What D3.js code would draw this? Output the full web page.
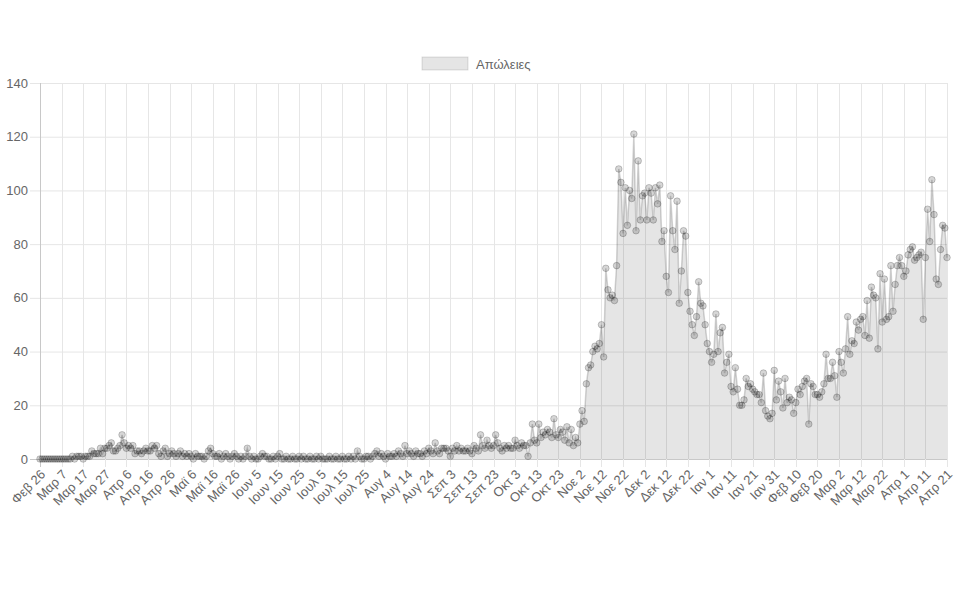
<!DOCTYPE html>
<html><head><meta charset="utf-8">
<script src="https://cdn.jsdelivr.net/npm/d3@7/dist/d3.min.js"></script>
<style>
body{margin:0;background:#fff}
text{font-family:"Liberation Sans",Arial,Helvetica,sans-serif}
</style>
</head><body>
<svg id="chart" width="960" height="600"></svg>
<script>
const seriesName = "Απώλειες";
const startDate = "2020-02-26";
const endDate = "2021-04-21";
const tickLabels = ["Φεβ 26","Μαρ 7","Μαρ 17","Μαρ 27","Απρ 6","Απρ 16","Απρ 26","Μαϊ 6","Μαϊ 16","Μαϊ 26","Ιουν 5","Ιουν 15","Ιουν 25","Ιουλ 5","Ιουλ 15","Ιουλ 25","Αυγ 4","Αυγ 14","Αυγ 24","Σεπ 3","Σεπ 13","Σεπ 23","Οκτ 3","Οκτ 13","Οκτ 23","Νοε 2","Νοε 12","Νοε 22","Δεκ 2","Δεκ 12","Δεκ 22","Ιαν 1","Ιαν 11","Ιαν 21","Ιαν 31","Φεβ 10","Φεβ 20","Μαρ 2","Μαρ 12","Μαρ 22","Απρ 1","Απρ 11","Απρ 21"];
const yTicks = [0,20,40,60,80,100,120,140];

// daily values, month by month
const feb2020 = [0,0,0,0];
const mar2020 = [0,0,0,0,0,0,0,0,0,0,0,1,0,1,1,1,0,1,1,1,3,2,2,2,4,2,4,4,5,6,3];
const apr2020 = [3,4,5,9,6,4,5,4,5,2,3,3,2,3,4,3,3,5,4,5,2,1,3,4,1,2,3,2,1,2];
const may2020 = [3,1,2,1,2,1,0,2,1,1,1,0,1,3,4,2,1,1,2,0,1,2,1,0,1,2,1,0,1,0,1];
const jun2020 = [4,1,0,1,0,0,1,2,1,1,0,0,1,0,1,2,0,0,1,0,0,1,0,0,1,0,1,0,0,1];
const jul2020 = [0,0,1,0,1,0,0,0,1,0,0,1,0,0,1,0,0,1,0,1,0,3,1,0,0,1,1,0,1,2,3];
const aug2020 = [1,2,1,0,2,1,1,2,1,3,2,1,5,2,3,2,1,3,2,2,1,3,2,4,3,2,6,3,2,4,4];
const sep2020 = [4,3,1,4,3,5,3,4,3,3,4,3,2,5,4,3,9,5,4,7,5,4,5,9,6,4,3,5,4,5];
const oct2020 = [4,4,7,5,4,6,5,5,1,6,13,7,6,13,8,10,9,11,10,8,15,9,8,11,10,7,12,6,11,5,8];
const nov2020 = [6,13,18,14,28,34,35,40,42,41,43,50,38,71,63,60,61,59,72,108,103,84,101,87,100,97,121,85,111,89];
const dec2020 = [98,99,89,101,99,89,101,95,102,81,85,68,62,98,85,78,96,58,70,85,83,62,55,50,46,53,66,58,57,50,43];
const jan2021 = [40,36,39,54,40,47,49,32,36,39,27,25,34,26,20,20,22,30,27,28,26,25,24,24,21,32,18,16,15,17,33];
const feb2021 = [22,29,25,19,30,21,23,22,17,21,26,24,27,29,30,13,28,27,24,24,23,25,28,39,30,30,36,31];
const mar2021 = [23,40,36,32,41,53,39,44,43,51,48,52,53,46,59,45,64,61,60,41,69,51,67,52,53,72,55,65,72,75,72];
const apr2021 = [68,70,76,78,79,74,75,76,77,52,75,93,81,104,91,67,65,78,87,86,75];

const values = [].concat(feb2020,mar2020,apr2020,may2020,jun2020,jul2020,aug2020,sep2020,oct2020,nov2020,dec2020,jan2021,feb2021,mar2021,apr2021);
const days = d3.timeDay.range(new Date(startDate+"T00:00:00"), d3.timeDay.offset(new Date(endDate+"T00:00:00"),1));
const data = days.map((d,i)=>({date:d, i, v: values[i]}));

const W = 960, H = 600;
const m = {left:40, right:13, top:83, bottom:141};
const svg = d3.select("#chart");

const x = d3.scaleLinear().domain([0, data.length-1]).range([m.left, W-m.right]);
const y = d3.scaleLinear().domain([0, 140]).range([H-m.bottom, m.top]);

const gridColor = "#e6e6e6";
const labelColor = "#666";

// horizontal grid + y labels
const gy = svg.append("g");
gy.selectAll("line").data(yTicks).join("line")
  .attr("x1", m.left-10).attr("x2", W-m.right)
  .attr("y1", d=>y(d)+0.5).attr("y2", d=>y(d)+0.5)
  .attr("stroke", d=> d===0 ? "#c8c8c8" : gridColor).attr("stroke-width",1);
gy.selectAll("text").data(yTicks).join("text")
  .attr("x", m.left-12).attr("y", d=>y(d)).attr("dy","0.35em")
  .attr("text-anchor","end").attr("fill",labelColor).attr("font-size",13)
  .text(d=>d);

// vertical grid + x labels
const tickIdx = tickLabels.map((t,k)=>k*10);
const gx = svg.append("g");
gx.selectAll("line").data(tickIdx).join("line")
  .attr("x1", d=>Math.round(x(d))+0.5).attr("x2", d=>Math.round(x(d))+0.5)
  .attr("y1", m.top).attr("y2", H-m.bottom+8)
  .attr("stroke", (d,k)=> k===0 ? "#c8c8c8" : gridColor).attr("stroke-width",1);
gx.selectAll("text").data(tickLabels).join("text")
  .attr("transform",(t,k)=>`translate(${x(k*10)+3},${H-m.bottom+13}) rotate(-45)`)
  .attr("text-anchor","end").attr("dy","0.35em")
  .attr("fill",labelColor).attr("font-size",13)
  .text(t=>t);

// area + line
const area = d3.area().x(d=>x(d.i)).y0(y(0)).y1(d=>y(d.v));
const line = d3.line().x(d=>x(d.i)).y(d=>y(d.v));
svg.append("path").datum(data).attr("d",area).attr("fill","rgba(0,0,0,0.1)");
svg.append("path").datum(data).attr("d",line).attr("fill","none")
  .attr("stroke","rgba(0,0,0,0.17)").attr("stroke-width",1.5);
svg.append("g").selectAll("circle").data(data).join("circle")
  .attr("cx",d=>x(d.i)).attr("cy",d=>y(d.v)).attr("r",3.3)
  .attr("fill","rgba(0,0,0,0.16)").attr("stroke","rgba(0,0,0,0.2)").attr("stroke-width",1);

// legend
const lg = svg.append("g");
lg.append("rect").attr("x",422).attr("y",57).attr("width",46).attr("height",13)
  .attr("fill","rgba(0,0,0,0.1)").attr("stroke","rgba(0,0,0,0.12)").attr("stroke-width",1);
lg.append("text").attr("x",476).attr("y",64).attr("dy","0.35em")
  .attr("fill",labelColor).attr("font-size",13).text(seriesName);
</script>
</body></html>
